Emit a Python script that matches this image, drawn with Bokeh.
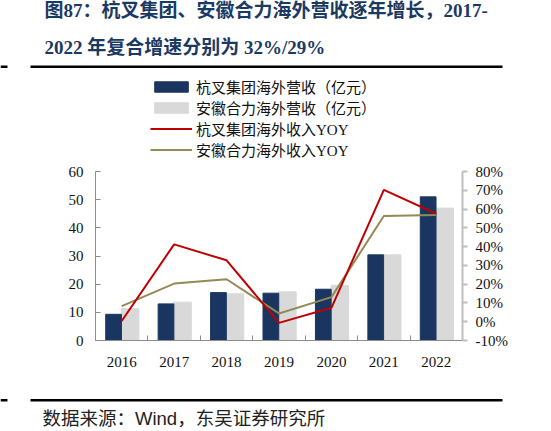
from bokeh.plotting import figure
from bokeh.layouts import column
from bokeh.models import (Range1d, LinearAxis, FixedTicker, Legend, LegendItem,
                          Label, BoxAnnotation)
from bokeh.embed import file_html
from bokeh.resources import INLINE

# data
years = ["2016", "2017", "2018", "2019", "2020", "2021", "2022"]
hangcha_rev = [9.3, 13.0, 17.0, 16.8, 18.2, 30.4, 51.0]    # 亿元
heli_rev = [11.3, 13.6, 16.6, 17.3, 19.6, 30.4, 47.0]      # 亿元
hangcha_yoy = [0.4, 41.2, 32.7, -0.6, 7.4, 70.2, 57.5]     # %
heli_yoy = [8.3, 20.3, 22.6, 4.4, 13.1, 56.3, 56.8]        # %
left_ticks = [0, 10, 20, 30, 40, 50, 60]
right_ticks = [-10, 0, 10, 20, 30, 40, 50, 60, 70, 80]

title_1 = "图87：杭叉集团、安徽合力海外营收逐年增长，2017-"
title_2 = "2022 年复合增速分别为 32%/29%"
source_text = "数据来源：Wind，东吴证券研究所"
legend_labels = ["杭叉集团海外营收（亿元）", "安徽合力海外营收（亿元）",
                 "杭叉集团海外收入YOY", "安徽合力海外收入YOY"]

SERIF = "Liberation Serif, Noto Sans CJK SC"
SANS = "Liberation Sans, Noto Sans CJK SC"
NAVY = "#1a3660"
GREY = "#d9d9d9"
RED = "#c00000"
OLIVE = "#948a54"
TITLE_BLUE = "#1b3a63"
W = 535
NAN = float("nan")


def blank(height):
    # a figure whose frame is the whole canvas, y growing downwards in pixels
    f = figure(width=W, height=height, x_range=Range1d(0, W), y_range=Range1d(height, 0),
               output_backend="svg", toolbar_location=None, min_border=0,
               x_axis_type=None, y_axis_type=None)
    f.frame_align = False
    f.outline_line_color = None
    f.xgrid.visible = False
    f.ygrid.visible = False
    return f


def rule(f, y):
    for x0, x1 in ((0, 7), (30, 502)):
        f.add_layout(BoxAnnotation(left=x0, right=x1, top=y, bottom=y + 2.4,
                                   fill_color="black", fill_alpha=1, line_color=None))


# ---- header: title, rule, legend
head = blank(160)
head.add_layout(Label(x=44, y=9.5, text=title_1, text_font=SERIF, text_font_size="19px",
                      text_font_style="bold", text_color=TITLE_BLUE, text_baseline="middle"))
head.add_layout(Label(x=44, y=46.5, text=title_2, text_font=SERIF, text_font_size="19px",
                      text_font_style="bold", text_color=TITLE_BLUE, text_baseline="middle"))
rule(head, 65)

# legend keys (styled like the chart's renderers, no visible data)
k_bar1 = head.vbar(x=[NAN], top=[NAN], width=1, color=NAVY)
k_bar2 = head.vbar(x=[NAN], top=[NAN], width=1, color=GREY)
k_line1 = head.line(x=[NAN], y=[NAN], line_color=RED, line_width=2)
k_line2 = head.line(x=[NAN], y=[NAN], line_color=OLIVE, line_width=2)
legend = Legend(items=[LegendItem(label=legend_labels[0], renderers=[k_bar1]),
                       LegendItem(label=legend_labels[1], renderers=[k_bar2]),
                       LegendItem(label=legend_labels[2], renderers=[k_line1]),
                       LegendItem(label=legend_labels[3], renderers=[k_line2])],
                location=(150, 0), orientation="vertical", padding=0, margin=0, spacing=0,
                border_line_color=None, background_fill_alpha=0,
                glyph_width=42, glyph_height=13, label_height=17, label_standoff=4,
                label_text_font=SERIF, label_text_font_size="15px",
                label_text_color="#111111")
head.add_layout(legend)

# ---- main chart
xs = [i + 0.5 for i in range(len(years))]
bounds = list(range(1, len(years)))

p = figure(width=W, height=231, x_range=Range1d(0, len(years)), y_range=Range1d(0, 60),
           output_backend="svg", toolbar_location=None,
           min_border_left=95, min_border_right=73, min_border_top=11, min_border_bottom=51)
p.frame_align = False
p.outline_line_color = None
p.xgrid.visible = False
p.ygrid.visible = False
p.extra_y_ranges = {"pct": Range1d(-10, 80)}

p.vbar(x=[x + 0.16 for x in xs], top=heli_rev, width=0.335, color=GREY)
p.vbar(x=[x - 0.155 for x in xs], top=hangcha_rev, width=0.30, color=NAVY)
p.line(xs, heli_yoy, y_range_name="pct", line_color=OLIVE, line_width=2)
p.line(xs, hangcha_yoy, y_range_name="pct", line_color=RED, line_width=2)

# left axis
ya = p.yaxis[0]
ya.ticker = FixedTicker(ticks=left_ticks)
ya.axis_line_color = "#8c8c8c"
ya.major_tick_line_color = "#8c8c8c"
ya.major_tick_in = 5
ya.major_tick_out = 0
ya.minor_tick_line_color = None
ya.major_label_standoff = 12
ya.major_label_text_font = SERIF
ya.major_label_text_font_size = "15px"
ya.major_label_text_color = "#111111"

# right axis
ra = LinearAxis(y_range_name="pct", ticker=FixedTicker(ticks=right_ticks),
                major_label_overrides={t: f"{t}%" for t in right_ticks})
ra.axis_line_color = "#bfbfbf"
ra.axis_line_width = 2
ra.major_tick_line_color = "#bfbfbf"
ra.major_tick_line_width = 2
ra.major_tick_in = 0
ra.major_tick_out = 5
ra.minor_tick_line_color = None
ra.major_label_standoff = 8
ra.major_label_text_font = SERIF
ra.major_label_text_font_size = "15px"
ra.major_label_text_color = "#111111"
p.add_layout(ra, "right")

# category axis: labels at centres, ticks at boundaries
xa = p.xaxis[0]
xa.ticker = FixedTicker(ticks=xs, minor_ticks=bounds)
xa.major_label_overrides = {x: y for x, y in zip(xs, years)}
xa.axis_line_color = "#8c8c8c"
xa.major_tick_line_color = None
xa.minor_tick_line_color = "#8c8c8c"
xa.minor_tick_in = 5
xa.minor_tick_out = 0
xa.major_label_standoff = 10
xa.major_label_text_font = SERIF
xa.major_label_text_font_size = "15px"
xa.major_label_text_color = "#111111"

# ---- footer: rule and source note
foot = blank(38)
rule(foot, 7.5)
foot.add_layout(Label(x=42, y=26.5, text=source_text, text_font=SANS, text_font_size="18.5px",
                      text_color="#222222", text_baseline="middle"))

open("out.html", "w").write(file_html(column(head, p, foot), INLINE))
